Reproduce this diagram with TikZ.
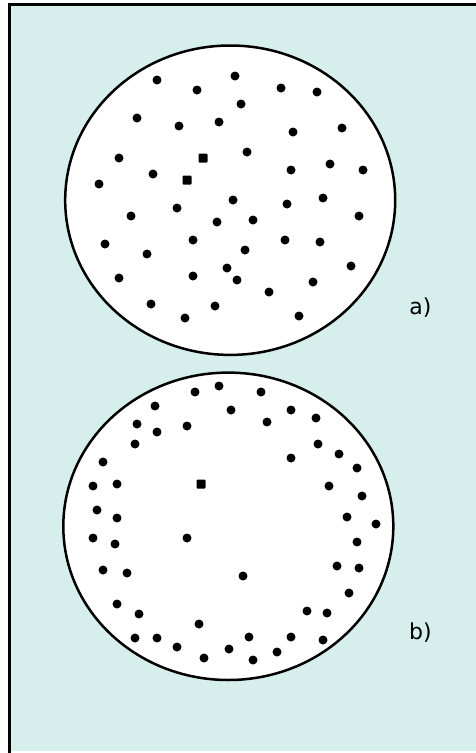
\documentclass[tikz,border=0pt]{standalone}
\usepackage{fontspec}
\setmainfont{DejaVu Sans}
\usepackage{xcolor}
\usepackage{tikz}
\usetikzlibrary{calc,positioning}
\definecolor{paneback}{RGB}{214,239,236}

\begin{document}
\begin{tikzpicture}[x=1pt,y=-1pt,
    spot/.style={circle,fill=black,inner sep=0pt,minimum size=9pt},
    spotsq/.style={rectangle,fill=black,inner sep=0pt,minimum size=9pt,rounded corners=1pt},
    vessel/.style={draw=black,fill=white,line width=2.5pt},
    tag/.style={inner sep=0pt,font=\fontsize{22}{26}\selectfont}]
  \useasboundingbox (0,0) rectangle (476,753);
  % 背景与边框
  \fill[paneback] (11,6) rectangle (476,751);
  \draw[line width=3pt] (9.7,753) -- (9.7,4.8) -- (476,4.8);
  % 两个容器
  \draw[vessel] (230.2,200.2) ellipse [x radius=165pt, y radius=154.7pt];
  \draw[vessel] (228.3,526.3) ellipse [x radius=165pt, y radius=153.7pt];
  % a) 中均匀分布的点
  \foreach \x/\y [count=\i] in {157/80,235/76,197/90,281/88,317/92,241/104,137/118,179/126,
      219/122,293/132,342/128,119/158,247/152,153/174,291/170,330/164,363/170,99/184,
      233/200,287/204,323/198,177/208,131/216,217/222,253/220,359/216,105/244,193/240,
      285/240,320/242,245/250,147/254,119/278,193/276,227/268,237/280,351/266,313/282,
      269/292,151/304,215/306,185/318,299/316}
    \node[spot] (a\i) at (\x,\y) {};
  \node[spotsq] (asq1) at (203,158) {};
  \node[spotsq] (asq2) at (187,180) {};
  % b) 中靠近边缘的点
  \foreach \x/\y [count=\i] in {195/392,219/386,261/392,155/406,231/410,291/410,316/418,
      137/424,157/432,187/426,267/422,135/444,318/444,339/454,291/458,103/462,357/468,
      93/486,117/484,329/486,362/496,97/510,117/518,347/517,376/524,93/538,115/544,
      187/538,357/542,103/570,127/573,243/576,337/566,359/568,349/593,117/604,139/614,
      307/611,327/613,199/624,135/638,157/638,177/647,204/658,229/649,249/637,253/660,
      277/652,291/637,323/640}
    \node[spot] (b\i) at (\x,\y) {};
  \node[spotsq] (bsq1) at (201,484) {};
  % 标注
  \node[tag] (la) at (420.5,307.5) {a)};
  \node[tag] (lb) at (420.5,633) {b)};
\end{tikzpicture}
\end{document}
